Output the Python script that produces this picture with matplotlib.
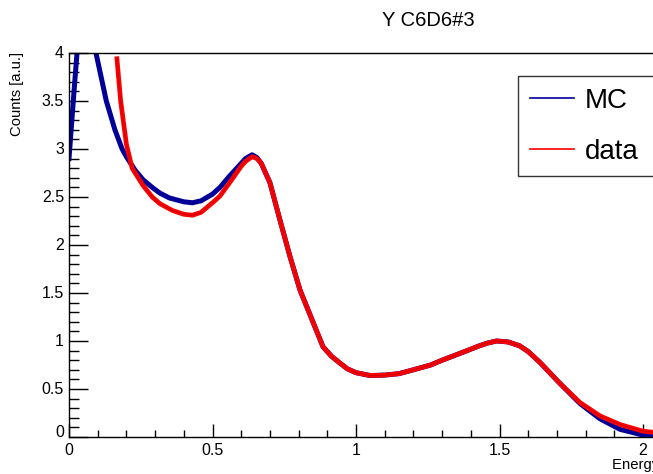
import matplotlib
matplotlib.use("Agg")
import matplotlib.pyplot as plt
from matplotlib.ticker import MultipleLocator

plt.rcParams['font.family'] = ['Liberation Sans', 'DejaVu Sans']

# values
mc_x = [0.0, 0.01, 0.02, 0.028, 0.05, 0.075, 0.094, 0.13, 0.16, 0.185, 0.2,
        0.23, 0.258, 0.29, 0.317, 0.35, 0.4, 0.43, 0.46, 0.5, 0.526, 0.56,
        0.6, 0.615, 0.638, 0.655, 0.67, 0.7, 0.735, 0.77, 0.805, 0.847, 0.885,
        0.915, 0.944, 0.97, 1.0, 1.05, 1.1, 1.15, 1.2, 1.26, 1.3, 1.37, 1.43,
        1.46, 1.49, 1.53, 1.57, 1.6, 1.64, 1.71, 1.78, 1.85, 1.92, 2.0, 2.1]
mc_y = [2.9, 3.3, 3.7, 4.0, 4.6, 4.4, 4.0, 3.5, 3.2, 3.0, 2.92,
        2.78, 2.68, 2.6, 2.54, 2.49, 2.45, 2.44, 2.46, 2.53, 2.6, 2.72,
        2.85, 2.9, 2.94, 2.91, 2.85, 2.65, 2.26, 1.88, 1.53, 1.22, 0.94,
        0.84, 0.77, 0.71, 0.67, 0.64, 0.645, 0.66, 0.7, 0.75, 0.8, 0.88, 0.95,
        0.98, 1.0, 0.99, 0.95, 0.89, 0.78, 0.56, 0.35, 0.19, 0.08, 0.02, 0.005]

data_x = [0.167, 0.18, 0.2, 0.22, 0.258, 0.29, 0.317, 0.36, 0.4, 0.43, 0.46,
          0.5, 0.526, 0.56, 0.6, 0.615, 0.638, 0.655, 0.67, 0.7, 0.735, 0.77,
          0.805, 0.847, 0.885, 0.915, 0.944, 0.97, 1.0, 1.05, 1.1, 1.15, 1.2,
          1.26, 1.3, 1.37, 1.43, 1.46, 1.49, 1.53, 1.57, 1.6, 1.64, 1.71,
          1.78, 1.85, 1.92, 2.0, 2.1]
data_y = [3.94, 3.5, 3.05, 2.8, 2.62, 2.5, 2.43, 2.36, 2.32, 2.31, 2.34,
          2.44, 2.51, 2.65, 2.82, 2.87, 2.92, 2.9, 2.85, 2.65, 2.26, 1.88,
          1.53, 1.22, 0.94, 0.84, 0.77, 0.71, 0.67, 0.64, 0.645, 0.66, 0.7,
          0.75, 0.8, 0.88, 0.95, 0.98, 1.0, 0.99, 0.95, 0.89, 0.78, 0.56,
          0.36, 0.22, 0.13, 0.06, 0.03]

fig = plt.figure(figsize=(6.53, 4.74), dpi=100)
# axes runs past the right edge of the canvas, like the cropped original
ax = fig.add_axes([69/653, 37/474, 2.5*287/653, 384/474])

ax.plot(mc_x, mc_y, color='#000099', lw=3.6, label='MC')
ax.plot(data_x, data_y, color='#ff0000', lw=3.4, label='data')
ax.plot(data_x, data_y, color='black', lw=0.6, ls=':', alpha=0.6)

ax.set_xlim(0, 2.5)
ax.set_ylim(0, 4)
ax.xaxis.set_major_locator(MultipleLocator(0.5))
ax.xaxis.set_minor_locator(MultipleLocator(0.1))
ax.yaxis.set_major_locator(MultipleLocator(0.5))
ax.yaxis.set_minor_locator(MultipleLocator(0.1))
ax.set_xticklabels([])
ax.set_yticklabels([])
ax.tick_params(axis='both', which='both', direction='in', top=False, right=False,
               width=1)
ax.tick_params(axis='y', which='major', length=14)
ax.tick_params(axis='y', which='minor', length=7)
ax.tick_params(axis='x', which='major', length=9.5)
ax.tick_params(axis='x', which='minor', length=5)
for s in ax.spines.values():
    s.set_linewidth(1)

# tick labels placed like ROOT draws them
xt = [0, 0.5, 1, 1.5, 2]
xl = ['0', '0.5', '1', '1.5', '2']
for v, t in zip(xt, xl):
    ax.text(v, -0.06, t, ha='center', va='top', fontsize=11.5)
yt = [0, 0.5, 1, 1.5, 2, 2.5, 3, 3.5, 4]
yl = ['0', '0.5', '1', '1.5', '2', '2.5', '3', '3.5', '4']
for v, t in zip(yt, yl):
    ax.text(-0.017, v + (0.05 if v == 0 else 0), t, ha='right', va='center', fontsize=11.5)

fig.text(428/653, 1 - 20/474, 'Y C6D6#3', ha='center', va='center', fontsize=14.5)
fig.text(17/653, 1 - 52/474, 'Counts [a.u.]', rotation=90, ha='center', va='top', fontsize=10.7)
fig.text(612/653, 1 - 465/474, 'Energy [MeV]', ha='left', va='center', fontsize=10.7)

leg = fig.legend(loc='upper left', bbox_to_anchor=(518/653, 1 - 173/474, 0.3, 97/474),
                 mode='expand', fontsize=20, frameon=True, fancybox=False,
                 handlelength=1.6, handletextpad=0.4, labelspacing=0.9,
                 borderpad=0.42, borderaxespad=0)
leg.get_frame().set_edgecolor('black')
leg.get_frame().set_linewidth(1)
for h in leg.get_lines():
    h.set_linewidth(1.2)

fig.savefig('out.png', dpi=100)
